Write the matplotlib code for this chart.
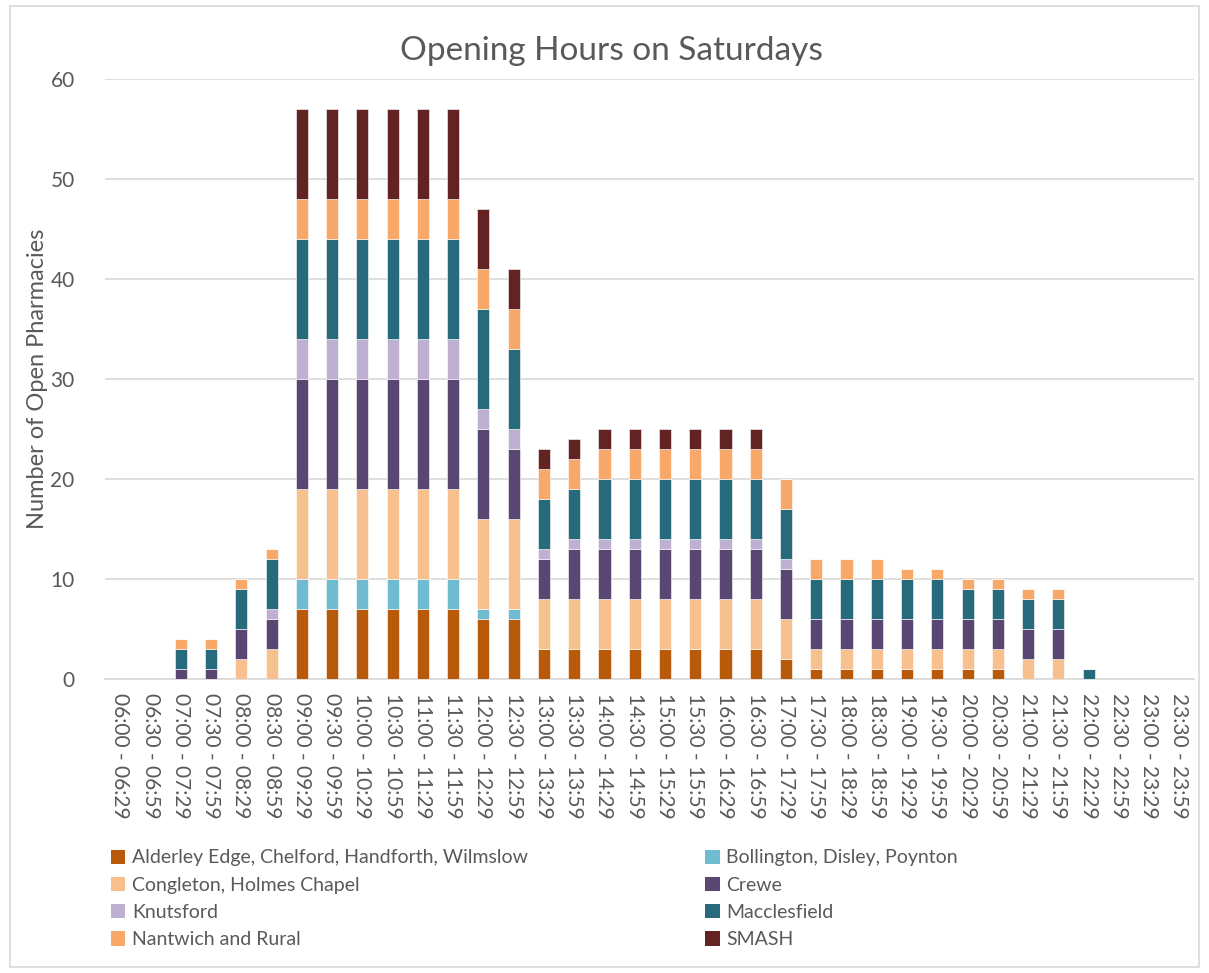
import numpy as np
import matplotlib
matplotlib.use('Agg')
import matplotlib.pyplot as plt
from matplotlib.patches import Rectangle, Patch

plt.rcParams['font.family'] = ['Lato', 'DejaVu Sans']

# Half-hour slots
slots = ['06:00 - 06:29', '06:30 - 06:59', '07:00 - 07:29', '07:30 - 07:59',
         '08:00 - 08:29', '08:30 - 08:59', '09:00 - 09:29', '09:30 - 09:59',
         '10:00 - 10:29', '10:30 - 10:59', '11:00 - 11:29', '11:30 - 11:59',
         '12:00 - 12:29', '12:30 - 12:59', '13:00 - 13:29', '13:30 - 13:59',
         '14:00 - 14:29', '14:30 - 14:59', '15:00 - 15:29', '15:30 - 15:59',
         '16:00 - 16:29', '16:30 - 16:59', '17:00 - 17:29', '17:30 - 17:59',
         '18:00 - 18:29', '18:30 - 18:59', '19:00 - 19:29', '19:30 - 19:59',
         '20:00 - 20:29', '20:30 - 20:59', '21:00 - 21:29', '21:30 - 21:59',
         '22:00 - 22:29', '22:30 - 22:59', '23:00 - 23:29', '23:30 - 23:59']

# Number of open pharmacies per area
alderley = [0, 0, 0, 0, 0, 0, 7, 7, 7, 7, 7, 7, 6, 6, 3, 3, 3, 3,
            3, 3, 3, 3, 2, 1, 1, 1, 1, 1, 1, 1, 0, 0, 0, 0, 0, 0]
bollington = [0, 0, 0, 0, 0, 0, 3, 3, 3, 3, 3, 3, 1, 1, 0, 0, 0, 0,
              0, 0, 0, 0, 0, 0, 0, 0, 0, 0, 0, 0, 0, 0, 0, 0, 0, 0]
congleton = [0, 0, 0, 0, 2, 3, 9, 9, 9, 9, 9, 9, 9, 9, 5, 5, 5, 5,
             5, 5, 5, 5, 4, 2, 2, 2, 2, 2, 2, 2, 2, 2, 0, 0, 0, 0]
crewe = [0, 0, 1, 1, 3, 3, 11, 11, 11, 11, 11, 11, 9, 7, 4, 5, 5, 5,
         5, 5, 5, 5, 5, 3, 3, 3, 3, 3, 3, 3, 3, 3, 0, 0, 0, 0]
knutsford = [0, 0, 0, 0, 0, 1, 4, 4, 4, 4, 4, 4, 2, 2, 1, 1, 1, 1,
             1, 1, 1, 1, 1, 0, 0, 0, 0, 0, 0, 0, 0, 0, 0, 0, 0, 0]
macclesfield = [0, 0, 2, 2, 4, 5, 10, 10, 10, 10, 10, 10, 10, 8, 5, 5, 6, 6,
                6, 6, 6, 6, 5, 4, 4, 4, 4, 4, 3, 3, 3, 3, 1, 0, 0, 0]
nantwich = [0, 0, 1, 1, 1, 1, 4, 4, 4, 4, 4, 4, 4, 4, 3, 3, 3, 3,
            3, 3, 3, 3, 3, 2, 2, 2, 1, 1, 1, 1, 1, 1, 0, 0, 0, 0]
smash = [0, 0, 0, 0, 0, 0, 9, 9, 9, 9, 9, 9, 6, 4, 2, 2, 2, 2,
         2, 2, 2, 2, 0, 0, 0, 0, 0, 0, 0, 0, 0, 0, 0, 0, 0, 0]

series = [
    ('Alderley Edge, Chelford, Handforth, Wilmslow', alderley, '#B85A0A'),
    ('Bollington, Disley, Poynton', bollington, '#6FBBD0'),
    ('Congleton, Holmes Chapel', congleton, '#F9C08F'),
    ('Crewe', crewe, '#594673'),
    ('Knutsford', knutsford, '#BEB0D1'),
    ('Macclesfield', macclesfield, '#276A7B'),
    ('Nantwich and Rural', nantwich, '#F8A96A'),
    ('SMASH', smash, '#632322'),
]

fig = plt.figure(figsize=(12.09, 9.73), dpi=100)
ax = fig.add_axes([0.087, 0.302, 0.901, 0.617])

x = np.arange(len(slots))
bottom = np.zeros(len(slots))
for name, vals, col in series:
    vals = np.array(vals, dtype=float)
    ax.bar(x, vals, width=0.4, bottom=bottom, color=col, edgecolor='white',
           linewidth=0.4, label=name, zorder=3)
    bottom += vals

ax.set_xlim(-0.5, len(slots) - 0.5)
ax.set_ylim(0, 60)
ax.set_yticks(range(0, 61, 10))
ax.grid(axis='y', color='#D9D9D9', linewidth=1.2, zorder=0)
for s in ['top', 'right', 'left']:
    ax.spines[s].set_visible(False)
ax.spines['bottom'].set_color('#D9D9D9')
ax.spines['bottom'].set_linewidth(1.2)
ax.tick_params(axis='both', length=0, colors='#595959')
ax.tick_params(axis='y', pad=22, labelsize=15)
ax.set_xticks(x)
ax.set_xticklabels(slots, rotation=270, fontsize=15)
ax.tick_params(axis='x', pad=10)

ax.set_ylabel('Number of Open Pharmacies', fontsize=17, color='#595959', labelpad=2)
fig.text(0.506, 0.948, 'Opening Hours on Saturdays', ha='center', va='center',
         fontsize=24, color='#595959')

# legend in two columns
handles = [Patch(facecolor=c, edgecolor='none') for _, _, c in series]
labels = [n for n, _, _ in series]
order = [0, 2, 4, 6, 1, 3, 5, 7]
fig.legend([handles[i] for i in order], [labels[i] for i in order],
           loc='upper left', bbox_to_anchor=(0.077, 0.145), ncol=2,
           frameon=False, fontsize=14, labelcolor='#595959',
           handlelength=0.75, handleheight=0.75, handletextpad=0.35,
           labelspacing=0.53, columnspacing=9.1)

fig.patches.append(Rectangle((0.008, 0.006), 0.984, 0.988, transform=fig.transFigure,
                             fill=False, edgecolor='#D9D9D9', linewidth=1.2))

fig.savefig('out.png', dpi=100)
